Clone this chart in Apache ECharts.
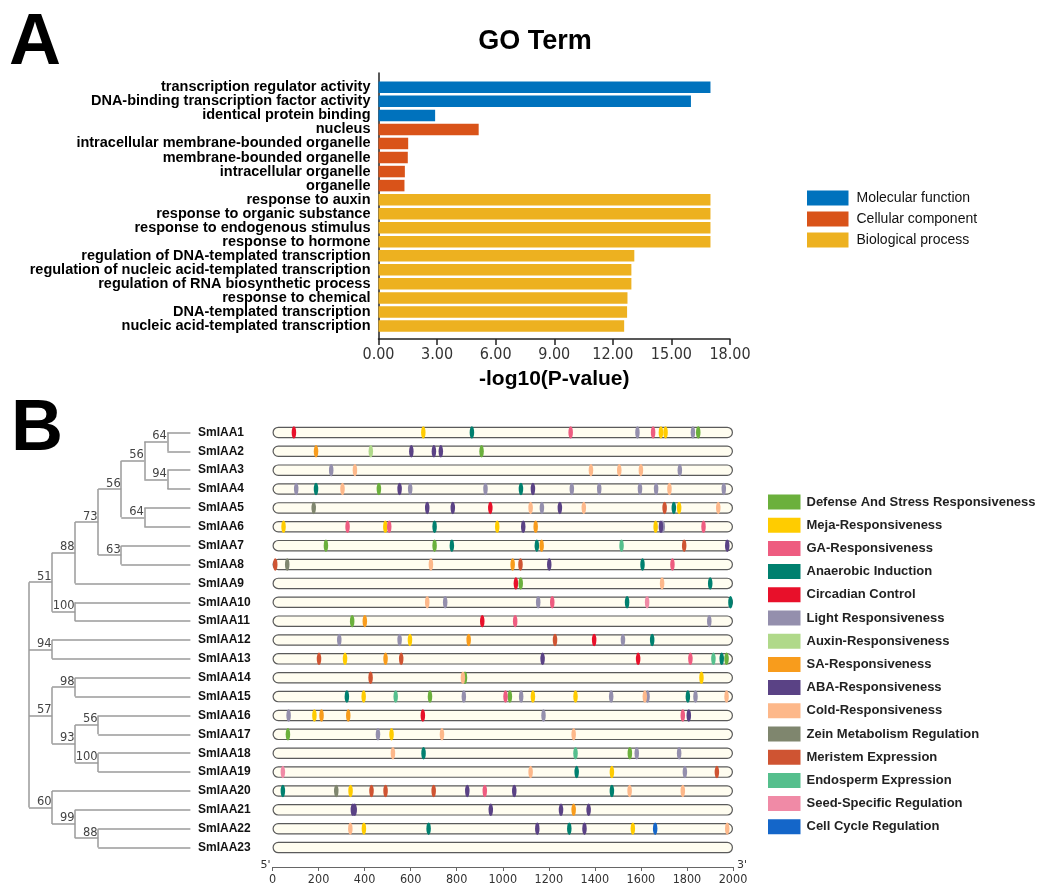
<!DOCTYPE html>
<html>
<head>
<meta charset="utf-8">
<title>GO Term and promoter cis-elements</title>
<script src="https://cdn.jsdelivr.net/npm/echarts/dist/echarts.min.js"></script>
<style>
  html, body { margin: 0; padding: 0; background: #ffffff; }
  #chart { width: 1038px; height: 886px; }
</style>
</head>
<body>
<div id="chart"></div>
<script>
// ---------- Panel A: GO enrichment ----------
const goTerms = [
  'transcription regulator activity',
  'DNA-binding transcription factor activity',
  'identical protein binding',
  'nucleus',
  'intracellular membrane-bounded organelle',
  'membrane-bounded organelle',
  'intracellular organelle',
  'organelle',
  'response to auxin',
  'response to organic substance',
  'response to endogenous stimulus',
  'response to hormone',
  'regulation of DNA-templated transcription',
  'regulation of nucleic acid-templated transcription',
  'regulation of RNA biosynthetic process',
  'response to chemical',
  'DNA-templated transcription',
  'nucleic acid-templated transcription'
];
const goTermGroup = [0, 0, 0, 1, 1, 1, 1, 1, 2, 2, 2, 2, 2, 2, 2, 2, 2, 2];
const goLog10P = [17.0, 16.0, 2.9, 5.13, 1.52, 1.5, 1.35, 1.33, 17.0, 17.0, 17.0, 17.0, 13.1, 12.95, 12.95, 12.75, 12.73, 12.58];
const goGroups = ['Molecular function', 'Cellular component', 'Biological process'];
const goColors = ['#0072BD', '#D95319', '#EDB120'];
const goAxisMax = 18;
const goAxisStep = 3;

// ---------- Panel B: phylogeny + promoter elements ----------
const genes = Array.from({ length: 23 }, (_, i) => 'SmIAA' + (i + 1));
const treeNewick = '(((((((SmIAA1,SmIAA2)64,(SmIAA3,SmIAA4)94)56,(SmIAA5,SmIAA6)64)56,(SmIAA7,SmIAA8)63)73,SmIAA9)88,(SmIAA10,SmIAA11)100)51,(SmIAA12,SmIAA13)94,((SmIAA14,SmIAA15)98,((SmIAA16,SmIAA17)56,(SmIAA18,SmIAA19)100)93)57,(SmIAA20,(SmIAA21,(SmIAA22,SmIAA23)88)99)60);';
const promoterLength = 2000;
const promoterStep = 200;

const elementTypes = [
  'Defense And Stress Responsiveness', 'Meja-Responsiveness', 'GA-Responsiveness',
  'Anaerobic Induction', 'Circadian Control', 'Light Responsiveness',
  'Auxin-Responsiveness', 'SA-Responsiveness', 'ABA-Responsiveness',
  'Cold-Responsiveness', 'Zein Metabolism Regulation', 'Meristem Expression',
  'Endosperm Expression', 'Seed-Specific Regulation', 'Cell Cycle Regulation'
];
const elementColors = [
  '#6BB03C', '#FFCC00', '#EE5C80', '#00806F', '#E8102A', '#948FAD', '#B0D98A',
  '#F89C1C', '#5A4285', '#FDB88A', '#7F866E', '#CF5432', '#55BF8D', '#F08AA6', '#1466C9'
];

// [gene number, position from 5' end]
const defenseStress = [[1,1849],[2,908],[4,462],[7,232],[7,704],[9,1078],[11,346],[13,1972],[14,836],[15,684],[15,1031],[17,67],[18,1552]];
const mejaResp = [[1,655],[1,1687],[1,1707],[5,1766],[6,48],[6,490],[6,976],[6,1664],[12,597],[13,315],[14,1863],[15,396],[15,1131],[15,1316],[16,182],[17,517],[19,1474],[20,339],[22,397],[22,1565]];
const gaResp = [[1,1295],[1,1653],[6,326],[6,507],[6,1872],[8,1737],[10,1215],[11,1054],[13,1815],[15,1012],[16,1782],[20,922]];
const anaerobic = [[1,866],[4,189],[4,1079],[5,1743],[6,704],[7,779],[7,1148],[8,1607],[9,1901],[10,1540],[10,1989],[12,1649],[13,1951],[15,323],[15,1804],[18,656],[19,1321],[20,45],[20,1474],[22,678],[22,1289]];
const circadian = [[1,93],[5,946],[9,1057],[11,911],[12,1397],[13,1588],[16,653]];
const lightResp = [[1,1585],[1,1826],[3,255],[3,1769],[4,103],[4,598],[4,925],[4,1300],[4,1419],[4,1596],[4,1666],[4,1960],[5,1170],[6,1695],[10,750],[10,1154],[11,1897],[12,290],[12,552],[12,1522],[15,831],[15,1080],[15,1471],[15,1629],[15,1837],[16,70],[16,1177],[17,458],[18,1582],[18,1766],[19,1791]];
const auxinResp = [[2,427]];
const saResp = [[2,189],[6,1143],[7,1169],[8,1043],[11,401],[12,852],[13,491],[16,213],[16,329],[21,1308]];
const abaResp = [[2,603],[2,701],[2,731],[4,552],[4,1131],[5,672],[5,783],[5,1248],[6,1089],[6,1687],[7,1975],[8,1202],[13,1173],[16,1808],[20,846],[20,1050],[21,349],[21,357],[21,948],[21,1253],[21,1373],[22,1150],[22,1355]];
const coldResp = [[3,358],[3,1383],[3,1506],[3,1600],[4,304],[4,1724],[5,1121],[5,1352],[5,1936],[8,688],[9,1692],[10,672],[14,827],[15,1617],[15,1972],[17,736],[17,1308],[18,523],[19,1121],[20,1551],[20,1782],[22,338],[22,1975]];
const zeinMetab = [[5,179],[8,64],[20,277]];
const meristem = [[5,1703],[7,1788],[8,12],[8,1077],[12,1227],[13,202],[13,559],[14,426],[19,1930],[20,430],[20,491],[20,700]];
const endosperm = [[7,1516],[13,1915],[15,535],[18,1316]];
const seedSpecific = [[10,1627],[19,45]];
const cellCycle = [[22,1662]];

const elementSites = [defenseStress, mejaResp, gaResp, anaerobic, circadian, lightResp, auxinResp,
  saResp, abaResp, coldResp, zeinMetab, meristem, endosperm, seedSpecific, cellCycle];

// ---------- tree parsing and layout ----------
function parseNewick(s) {
  let i = 0;
  function node() {
    if (s[i] === '(') {
      i++;
      const children = [node()];
      while (s[i] === ',') { i++; children.push(node()); }
      i++; // ')'
      let support = '';
      while (i < s.length && /[0-9.]/.test(s[i])) support += s[i++];
      return { children, support };
    }
    let name = '';
    while (i < s.length && !/[,();]/.test(s[i])) name += s[i++];
    return { name };
  }
  return node();
}
const treeRoot = parseNewick(treeNewick);
let maxInnerDepth = 0;
(function place(n, d) {
  n.depth = d;
  if (!n.children) { n.y = genes.indexOf(n.name); return; }
  maxInnerDepth = Math.max(maxInnerDepth, d);
  n.children.forEach(c => place(c, d + 1));
  n.y = (n.children[0].y + n.children[n.children.length - 1].y) / 2;
})(treeRoot, 0);
const leafX = maxInnerDepth + 1;
const treeSegments = [];
const treeSupports = [];
(function collect(n) {
  if (!n.children) return;
  const first = n.children[0], last = n.children[n.children.length - 1];
  treeSegments.push({ coords: [[n.depth, first.y], [n.depth, last.y]] });
  n.children.forEach(c => {
    treeSegments.push({ coords: [[n.depth, c.y], [c.children ? c.depth : leafX, c.y]] });
    collect(c);
  });
  if (n.support) treeSupports.push([n.depth, n.y, n.support]);
})(treeRoot);

// ---------- fonts and shared layout ----------
const sans = "'Liberation Sans', Arial, sans-serif";
const condensed = "'DejaVu Sans Condensed', 'DejaVu Sans', sans-serif";

const rowsTop = 423;
const rowsHeight = 434;

const chart = echarts.init(document.getElementById('chart'), null, { renderer: 'canvas' });

const series = [];
// GO bars: one series per group, stacked so bars stay centred in their row
goGroups.forEach((g, gi) => {
  series.push({
    name: g,
    type: 'bar',
    xAxisIndex: 1, yAxisIndex: 1,
    stack: 'go',
    barWidth: 11.5,
    itemStyle: { color: goColors[gi] },
    data: goLog10P.map((v, i) => (goTermGroup[i] === gi ? v : '-')),
    silent: true
  });
});
// promoter tracks
series.push({
  type: 'bar',
  xAxisIndex: 2, yAxisIndex: 2,
  barWidth: 11.5,
  itemStyle: { color: '#FFFDF0', borderColor: '#5a5a5a', borderWidth: 1.2, borderRadius: 6 },
  data: genes.map(() => promoterLength),
  silent: true,
  z: 1
});
// cis-element marks
elementTypes.forEach((t, ti) => {
  series.push({
    name: t,
    type: 'scatter',
    xAxisIndex: 2, yAxisIndex: 2,
    symbol: 'circle',
    symbolSize: [4.5, 12.5],
    itemStyle: { color: elementColors[ti], opacity: 1 },
    data: elementSites[ti].map(([g, p]) => [p, genes[g - 1]]),
    silent: true,
    z: 3
  });
});
// tree branches
series.push({
  type: 'lines',
  coordinateSystem: 'cartesian2d',
  xAxisIndex: 3, yAxisIndex: 3,
  polyline: false,
  lineStyle: { color: '#9a9a9a', width: 1.5, opacity: 1 },
  data: treeSegments,
  silent: true
});
// bootstrap support values
series.push({
  type: 'custom',
  xAxisIndex: 3, yAxisIndex: 3,
  data: treeSupports,
  silent: true,
  renderItem: (params, api) => {
    const p = api.coord([api.value(0), api.value(1)]);
    return {
      type: 'text',
      x: p[0] - 0.5,
      y: p[1] + 0.5,
      style: {
        text: String(api.value(2)),
        fill: '#444',
        font: "11.5px 'DejaVu Sans', sans-serif",
        align: 'right',
        verticalAlign: 'bottom'
      }
    };
  }
});

const option = {
  animation: false,
  backgroundColor: '#ffffff',
  title: [
    { text: 'A', left: 9, top: 8, padding: 0, textStyle: { fontFamily: sans, fontWeight: 'bold', fontSize: 72, color: '#000' } },
    { text: 'GO Term', left: 530, textAlign: 'center', top: 23, textStyle: { fontFamily: sans, fontWeight: 'bold', fontSize: 27, color: '#000' } },
    { text: 'B', left: 11, top: 394, padding: 0, textStyle: { fontFamily: sans, fontWeight: 'bold', fontSize: 72, color: '#000' } }
  ],
  legend: [
    {
      data: goGroups,
      orient: 'vertical',
      left: 807, top: 190.5,
      padding: 0,
      itemWidth: 41.5, itemHeight: 15, itemGap: 6,
      icon: 'rect',
      selectedMode: false,
      textStyle: { fontFamily: sans, fontSize: 14, color: '#111', padding: [0, 0, 0, 3] }
    },
    {
      data: elementTypes,
      orient: 'vertical',
      left: 768, top: 494.5,
      padding: 0,
      itemWidth: 32.5, itemHeight: 15, itemGap: 8.2,
      icon: 'rect',
      selectedMode: false,
      textStyle: { fontFamily: sans, fontWeight: 'bold', fontSize: 13, color: '#222', padding: [0, 0, 0, 1] }
    }
  ],
  grid: [
    { left: 378.5, width: 351.5, top: 73, height: 266 },             // A: axis frame
    { left: 378.5, width: 351.5, top: 80.3, height: 252.7 },         // A: bars
    { left: 272.5, width: 460.5, top: rowsTop, height: rowsHeight }, // B: promoters
    { left: 29, width: 161.4, top: rowsTop, height: rowsHeight }     // B: tree
  ],
  xAxis: [
    {
      gridIndex: 0, type: 'value', min: 0, max: goAxisMax, interval: goAxisStep,
      name: '-log10(P-value)', nameLocation: 'middle', nameGap: 30,
      nameTextStyle: { fontFamily: sans, fontWeight: 'bold', fontSize: 21, color: '#000' },
      axisLine: { show: true, lineStyle: { color: '#222', width: 1.5 } },
      axisTick: { show: true, length: 6, lineStyle: { color: '#222', width: 1.5 } },
      axisLabel: { formatter: v => v.toFixed(2), fontFamily: condensed, fontSize: 16, color: '#333', margin: 8 },
      splitLine: { show: false }
    },
    { gridIndex: 1, type: 'value', min: 0, max: goAxisMax, show: false },
    {
      gridIndex: 2, type: 'value', min: 0, max: promoterLength, interval: promoterStep,
      position: 'bottom', offset: 10,
      name: "5'", nameLocation: 'start', nameGap: 2,
      nameTextStyle: { fontFamily: "'DejaVu Sans', sans-serif", fontSize: 11, color: '#333', verticalAlign: 'bottom', padding: [0, 0, -4, 0] },
      axisLine: { show: true, lineStyle: { color: '#666', width: 1 } },
      axisTick: { show: true, length: 4, lineStyle: { color: '#666' } },
      axisLabel: { formatter: v => String(v), fontFamily: condensed, fontSize: 12.5, color: '#333', margin: 6 },
      splitLine: { show: false }
    },
    { gridIndex: 3, type: 'value', min: 0, max: leafX, show: false },
    {
      gridIndex: 2, type: 'value', min: 0, max: promoterLength,
      position: 'bottom', offset: 10,
      name: "3'", nameLocation: 'end', nameGap: 4,
      nameTextStyle: { fontFamily: "'DejaVu Sans', sans-serif", fontSize: 11, color: '#333', verticalAlign: 'bottom', padding: [0, 0, -4, 0] },
      axisLine: { show: false }, axisTick: { show: false }, axisLabel: { show: false }, splitLine: { show: false }
    }
  ],
  yAxis: [
    {
      gridIndex: 0, type: 'value', min: 0, max: 1,
      axisLine: { show: true, lineStyle: { color: '#222', width: 1.5 } },
      axisTick: { show: false }, axisLabel: { show: false }, splitLine: { show: false }
    },
    {
      gridIndex: 1, type: 'category', data: goTerms, inverse: true,
      axisLine: { show: false }, axisTick: { show: false },
      axisLabel: { interval: 0, fontFamily: sans, fontWeight: 'bold', fontSize: 14.5, color: '#000', margin: 8 }
    },
    {
      gridIndex: 2, type: 'category', data: genes, inverse: true,
      axisLine: { show: false }, axisTick: { show: false },
      axisLabel: { interval: 0, fontFamily: sans, fontWeight: 'bold', fontSize: 12, color: '#111', align: 'left', margin: 74.5 }
    },
    { gridIndex: 3, type: 'value', min: -0.5, max: genes.length - 0.5, inverse: true, show: false }
  ],
  series
};

chart.setOption(option);
</script>
</body>
</html>
